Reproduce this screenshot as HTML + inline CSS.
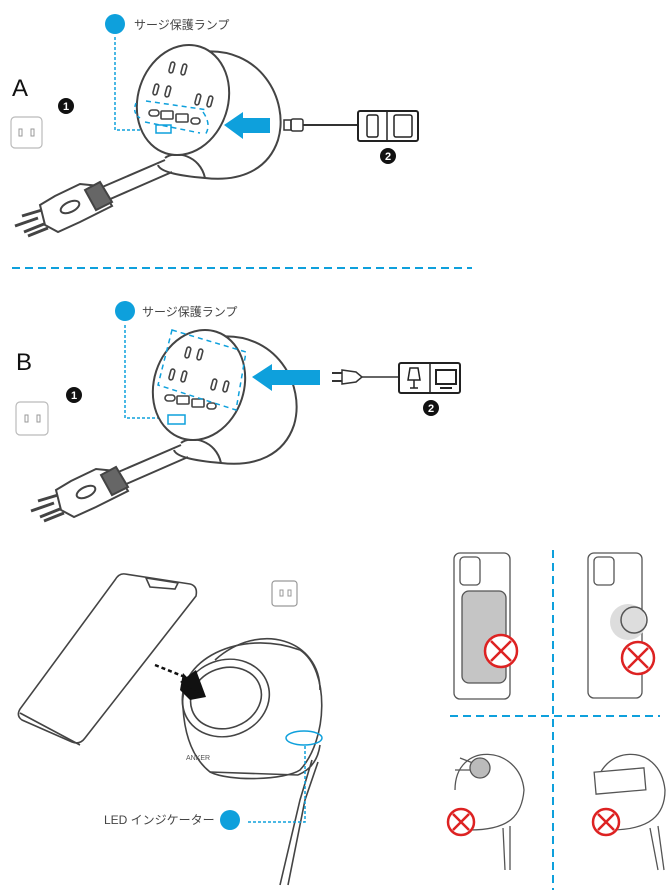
<!DOCTYPE html>
<html><head><meta charset="utf-8"><style>
html,body{margin:0;padding:0;background:#fff;}
svg{display:block;}
text{font-family:"Liberation Sans","Noto Sans CJK JP",sans-serif;}
</style></head><body>
<svg width="672" height="893" viewBox="0 0 672 893" xmlns="http://www.w3.org/2000/svg">
<defs>
<g id="dev" fill="none" stroke="#444" stroke-width="2">
  <path d="M165 160 L100 188 M172 172 L108 200" stroke="#444"/>
  <path d="M100 186 L80 184 L55 196 L40 205 L45 225 L58 232 L80 222 L112 206 Z" fill="#fff"/>
  <path d="M85 190 L100 182 L112 202 L96 210 Z" fill="#666"/>
  <path d="M42 210 L22 216 M38 218 L15 226 M48 228 L28 236 M44 224 L24 232" stroke-width="3"/>
  <ellipse cx="70" cy="207" rx="10" ry="5" transform="rotate(-25 70 207)"/>
  <path d="M200 52 C260 45 290 100 278 140 C268 170 240 182 205 178 C180 176 160 172 158 165" />
  <path d="M165 158 C175 150 200 155 205 178" />
  <ellipse cx="183" cy="100" rx="45" ry="56" transform="rotate(18 183 100)" fill="#fff"/>
  <g stroke-width="1.6">
   <rect x="170" y="62" width="4" height="11" rx="2" transform="rotate(15 172 67)"/>
   <rect x="182" y="64" width="4" height="11" rx="2" transform="rotate(15 184 69)"/>
   <rect x="154" y="84" width="4" height="11" rx="2" transform="rotate(15 156 89)"/>
   <rect x="166" y="86" width="4" height="11" rx="2" transform="rotate(15 168 91)"/>
   <rect x="196" y="94" width="4" height="11" rx="2" transform="rotate(15 198 99)"/>
   <rect x="208" y="96" width="4" height="11" rx="2" transform="rotate(15 210 101)"/>
   <rect x="149" y="110" width="10" height="6" rx="3"/>
   <rect x="161" y="111" width="12" height="8" rx="1"/>
   <rect x="176" y="114" width="12" height="8" rx="1"/>
   <rect x="191" y="118" width="9" height="6" rx="3"/>
  </g>
</g>
</defs>

<circle cx="115" cy="24" r="10" fill="#0ea0dc"/>
<text x="134" y="29" font-size="12" fill="#444">サージ保護ランプ</text>
<path d="M115 37 V130 H158" fill="none" stroke="#0ea0dc" stroke-width="1.5" stroke-dasharray="3,2"/>
<text x="12" y="96" font-size="24" fill="#111">A</text>
<circle cx="66" cy="106" r="8" fill="#111"/><text x="66" y="110" font-size="11" font-weight="bold" fill="#fff" text-anchor="middle">1</text>
<rect x="11" y="117" width="31" height="31" rx="4" fill="none" stroke="#bbb" stroke-width="1.2"/>
<rect x="19" y="129" width="3" height="7" fill="none" stroke="#999"/><rect x="31" y="129" width="3" height="7" fill="none" stroke="#999"/>
<use href="#dev"/>
<path d="M136 103 Q132 113 140 118" fill="none" stroke="#0ea0dc" stroke-width="1.5" stroke-dasharray="4,3"/>
<path d="M146 101 L208 110 M145 122 L200 133 M203 112 Q212 125 205 135" fill="none" stroke="#0ea0dc" stroke-width="1.5" stroke-dasharray="5,4"/>
<rect x="156" y="125" width="15" height="8" fill="none" stroke="#0ea0dc" stroke-width="1.5"/>
<polygon points="224,125 243,112 243,118 270,118 270,133 243,133 243,139" fill="#0ea0dc"/>
<rect x="284" y="120" width="7" height="10" fill="none" stroke="#333" stroke-width="1.5"/>
<rect x="291" y="119" width="12" height="12" rx="2" fill="none" stroke="#333" stroke-width="1.5"/>
<path d="M303 125 H358" stroke="#333" stroke-width="2"/>
<rect x="358" y="111" width="60" height="30" rx="2" fill="none" stroke="#222" stroke-width="2"/>
<path d="M387 111 V141" stroke="#222" stroke-width="1.5"/>
<rect x="367" y="115" width="11" height="22" rx="2" fill="none" stroke="#222" stroke-width="1.5"/>
<rect x="394" y="115" width="18" height="22" rx="2" fill="none" stroke="#222" stroke-width="1.5"/>
<circle cx="388" cy="156" r="8" fill="#111"/><text x="388" y="160" font-size="11" font-weight="bold" fill="#fff" text-anchor="middle">2</text>

<path d="M12 268 H472" stroke="#0ea0dc" stroke-width="2" stroke-dasharray="8,5"/>

<circle cx="125" cy="311" r="10" fill="#0ea0dc"/>
<text x="142" y="316" font-size="12" fill="#444">サージ保護ランプ</text>
<path d="M125 325 V418 H168" fill="none" stroke="#0ea0dc" stroke-width="1.5" stroke-dasharray="3,2"/>
<text x="16" y="370" font-size="24" fill="#111">B</text>
<circle cx="74" cy="395" r="8" fill="#111"/><text x="74" y="399" font-size="11" font-weight="bold" fill="#fff" text-anchor="middle">1</text>
<rect x="16" y="402" width="32" height="33" rx="4" fill="none" stroke="#bbb" stroke-width="1.2"/>
<rect x="25" y="415" width="3" height="7" fill="none" stroke="#999"/><rect x="37" y="415" width="3" height="7" fill="none" stroke="#999"/>
<use href="#dev" transform="translate(16,285)"/>
<polygon points="172,330 246,352 236,410 158,385" fill="none" stroke="#0ea0dc" stroke-width="1.5" stroke-dasharray="5,4"/>
<rect x="168" y="415" width="17" height="9" fill="none" stroke="#0ea0dc" stroke-width="1.5"/>
<polygon points="252,377 272,364 272,370 320,370 320,385 272,385 272,391" fill="#0ea0dc"/>
<path d="M332 373 H342 M332 381 H342" stroke="#333" stroke-width="2"/>
<path d="M342 370 L356 372 L362 377 L356 382 L342 384 Z" fill="none" stroke="#333" stroke-width="1.5"/>
<path d="M362 377 H400" stroke="#333" stroke-width="1.5"/>
<rect x="399" y="363" width="61" height="30" rx="2" fill="none" stroke="#222" stroke-width="2"/>
<path d="M430 363 V393" stroke="#222" stroke-width="1.5"/>
<path d="M410 368 H418 L420 380 H408 Z M414 380 V388 M410 388 H418" fill="none" stroke="#222" stroke-width="1.5"/>
<rect x="436" y="370" width="20" height="14" fill="none" stroke="#222" stroke-width="2"/><path d="M440 388 H452" stroke="#222" stroke-width="2"/>
<circle cx="431" cy="408" r="8" fill="#111"/><text x="431" y="412" font-size="11" font-weight="bold" fill="#fff" text-anchor="middle">2</text>

<g fill="none" stroke="#444" stroke-width="1.6">
 <path d="M125 574 L190 584 Q198 586 196 596 L85 738 Q80 745 72 742 L22 720 Q16 716 20 709 L115 580 Q119 573 125 574 Z"/>
 <path d="M20 713 L80 745"/>
 <path d="M146 578 L178 583 L175 589 L150 587 Z"/>
 <path d="M183 708 C175 660 240 628 300 650 C330 670 328 740 300 770 C285 780 230 782 210 772 C195 760 185 740 183 708 Z"/>
 <path d="M215 660 C260 620 320 640 320 690"/>
 <ellipse cx="226" cy="698" rx="44" ry="38" transform="rotate(-20 226 698)" fill="#fff"/>
 <ellipse cx="226" cy="698" rx="36" ry="30" transform="rotate(-20 226 698)"/>
 <path d="M210 772 L298 775 M298 775 C310 770 318 760 320 745 M312 760 L300 800 L280 885 M318 762 L305 800 L288 885"/>
</g>
<text x="186" y="760" font-size="7" fill="#555">ANKER</text>
<path d="M155 665 L185 677" stroke="#111" stroke-width="2.5" stroke-dasharray="4,3"/>
<polygon points="183,673 206,697 190,700 180,690" fill="#111"/>
<polygon points="180,682 196,670 206,697" fill="#111"/>
<rect x="272" y="581" width="25" height="25" rx="3" fill="none" stroke="#999" stroke-width="1.2"/>
<rect x="280" y="590" width="3" height="6" fill="none" stroke="#999"/><rect x="288" y="590" width="3" height="6" fill="none" stroke="#999"/>
<ellipse cx="304" cy="738" rx="18" ry="7" fill="none" stroke="#0ea0dc" stroke-width="1.5"/>
<path d="M305 746 V822 H246" fill="none" stroke="#0ea0dc" stroke-width="1.5" stroke-dasharray="3,2"/>
<circle cx="230" cy="820" r="10" fill="#0ea0dc"/>
<text x="104" y="824" font-size="12" fill="#444">LED インジケーター</text>

<path d="M553 550 V890" stroke="#0ea0dc" stroke-width="2" stroke-dasharray="8,5"/>
<path d="M450 716 H660" stroke="#0ea0dc" stroke-width="2" stroke-dasharray="8,5"/>
<g fill="none" stroke="#555" stroke-width="1.3">
 <rect x="454" y="553" width="56" height="146" rx="6"/>
 <rect x="460" y="557" width="20" height="28" rx="4"/>
 <rect x="588" y="553" width="54" height="145" rx="6"/>
 <rect x="594" y="557" width="20" height="28" rx="4"/>
</g>
<rect x="462" y="591" width="44" height="92" rx="7" fill="#c5c5c5" stroke="#555" stroke-width="1.3"/>
<circle cx="628" cy="622" r="18" fill="#ddd"/>
<circle cx="634" cy="620" r="13" fill="none" stroke="#555" stroke-width="1.5"/>
<g stroke="#d22" stroke-width="2.5" fill="#fff">
 <circle cx="501" cy="651" r="16"/><path d="M491 641 L511 661 M511 641 L491 661"/>
 <circle cx="638" cy="658" r="16"/><path d="M628 648 L648 668 M648 648 L628 668"/>
</g>
<g fill="none" stroke="#555" stroke-width="1.3">
 <path d="M455 790 C455 740 520 745 524 790 C522 815 510 830 470 830"/>
 <path d="M503 828 L505 870 M510 826 L510 870"/>
 <path d="M596 790 C598 745 660 740 665 790 C665 815 650 830 610 830"/>
 <path d="M650 828 L658 870 M658 826 L664 870"/>
 <path d="M470 770 L455 770 M478 765 L460 758"/>
 <circle cx="480" cy="768" r="10" fill="#bbb"/>
 <rect x="595" y="770" width="50" height="22" transform="rotate(-5 620 781)" fill="#fff"/>
</g>
<g stroke="#d22" stroke-width="2.5" fill="#fff">
 <circle cx="461" cy="822" r="13"/><path d="M453 814 L469 830 M469 814 L453 830"/>
 <circle cx="606" cy="822" r="13"/><path d="M598 814 L614 830 M614 814 L598 830"/>
</g>
</svg>
</body></html>
